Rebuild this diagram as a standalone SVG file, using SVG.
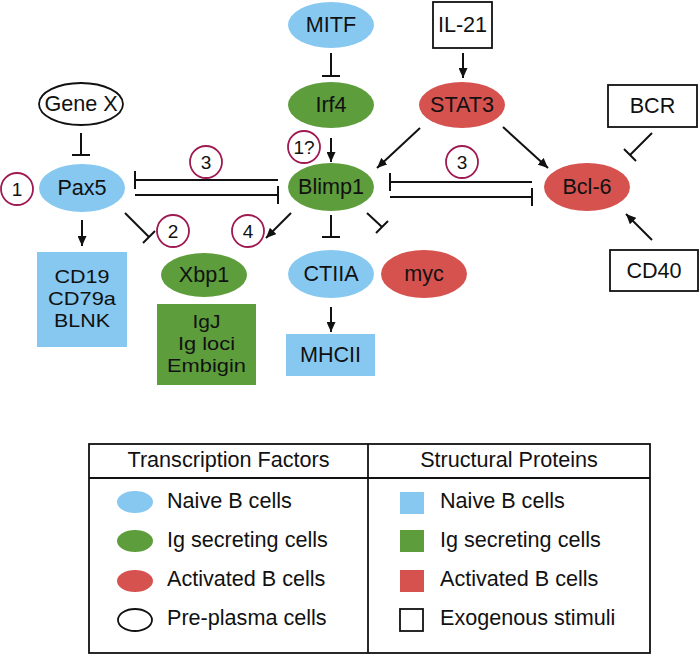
<svg xmlns="http://www.w3.org/2000/svg" width="699" height="655" viewBox="0 0 699 655">
<defs>
<marker id="arr" markerUnits="userSpaceOnUse" markerWidth="10" markerHeight="9" refX="10" refY="4.5" orient="auto">
<path d="M0,0 L10,4.5 L0,9 z" fill="#111"/>
</marker>
<style>
text{font-family:"Liberation Sans",Arial,sans-serif;font-size:21.6px;fill:#111;text-anchor:middle}
.ml{font-size:19px}
.blue{fill:#86c8f0}
.green{fill:#5d9d3c}
.red{fill:#d6524f}
.box{fill:#fff;stroke:#111;stroke-width:1.8}
.oval{fill:#fff;stroke:#111;stroke-width:1.8}
.ln{stroke:#111;stroke-width:2;fill:none}
.arr{stroke:#111;stroke-width:2;fill:none;marker-end:url(#arr)}
.num circle{fill:#fff;stroke:#9e1a50;stroke-width:1.8}
.num text{font-size:19px}
.leg text{text-anchor:start}
.leg .hd{text-anchor:middle}
</style>
</defs>
<rect width="699" height="655" fill="#fff"/>

<g id="connectors">
<line class="ln" x1="331" y1="53" x2="331" y2="76"/><line class="ln" x1="322" y1="76" x2="340" y2="76"/>
<line class="ln" x1="81" y1="133" x2="81" y2="155"/><line class="ln" x1="72" y1="155" x2="90" y2="155"/>
<line class="arr" x1="331" y1="138" x2="331" y2="162"/>
<line class="arr" x1="463" y1="53" x2="463" y2="78"/>
<line class="arr" x1="420" y1="128" x2="377" y2="168"/>
<line class="arr" x1="503" y1="127" x2="548" y2="168"/>
<line class="ln" x1="652" y1="133" x2="630" y2="155"/><line class="ln" x1="624" y1="149" x2="636" y2="161"/>
<line class="ln" x1="135" y1="180" x2="278" y2="180"/><line class="ln" x1="135" y1="171" x2="135" y2="189"/>
<line class="ln" x1="135" y1="195" x2="278" y2="195"/><line class="ln" x1="278" y1="186" x2="278" y2="204"/>
<line class="ln" x1="390" y1="182" x2="532" y2="182"/><line class="ln" x1="390" y1="173" x2="390" y2="191"/>
<line class="ln" x1="390" y1="197" x2="532" y2="197"/><line class="ln" x1="532" y1="188" x2="532" y2="206"/>
<line class="arr" x1="82" y1="220" x2="82" y2="246"/>
<line class="ln" x1="125" y1="213" x2="149" y2="237"/><line class="ln" x1="143" y1="243" x2="155" y2="231"/>
<line class="arr" x1="291" y1="213" x2="266" y2="238"/>
<line class="ln" x1="331" y1="215" x2="331" y2="237"/><line class="ln" x1="322" y1="237" x2="340" y2="237"/>
<line class="ln" x1="367" y1="213" x2="382" y2="227"/><line class="ln" x1="376" y1="233" x2="388" y2="221"/>
<line class="arr" x1="331" y1="307" x2="331" y2="332"/>
<line class="arr" x1="652" y1="240" x2="626" y2="214"/>
</g>

<g id="mitf"><ellipse class="blue" cx="331" cy="25" rx="43" ry="23"/><text x="331" y="32">MITF</text></g>
<g id="il21"><rect class="box" x="433" y="2" width="59" height="46"/><text x="462.5" y="32">IL-21</text></g>
<g id="genex"><ellipse class="oval" cx="81" cy="104" rx="42" ry="21"/><text x="81" y="111">Gene X</text></g>
<g id="irf4"><ellipse class="green" cx="331" cy="105" rx="43" ry="23"/><text x="331" y="112">Irf4</text></g>
<g id="stat3"><ellipse class="red" cx="462" cy="105" rx="43" ry="23"/><text x="462" y="112">STAT3</text></g>
<g id="bcr"><rect class="box" x="608" y="85" width="89" height="42"/><text x="652.5" y="113">BCR</text></g>
<g id="pax5"><ellipse class="blue" cx="82" cy="188" rx="43" ry="24"/><text x="82" y="195">Pax5</text></g>
<g id="blimp1"><ellipse class="green" cx="331" cy="187" rx="43" ry="24"/><text x="331" y="194">Blimp1</text></g>
<g id="bcl6"><ellipse class="red" cx="587" cy="187" rx="43" ry="24"/><text x="587" y="194">Bcl-6</text></g>
<g id="cd19"><rect class="blue" x="37" y="252" width="90" height="95"/>
<text class="ml" x="82" y="283" textLength="55" lengthAdjust="spacingAndGlyphs">CD19</text>
<text class="ml" x="82" y="305" textLength="68" lengthAdjust="spacingAndGlyphs">CD79a</text>
<text class="ml" x="82" y="327" textLength="56" lengthAdjust="spacingAndGlyphs">BLNK</text></g>
<g id="xbp1"><ellipse class="green" cx="204" cy="275" rx="43" ry="22"/><text x="204" y="282">Xbp1</text></g>
<g id="igj"><rect class="green" x="157" y="304" width="99" height="81"/>
<text class="ml" x="206.5" y="328" textLength="28" lengthAdjust="spacingAndGlyphs">IgJ</text>
<text class="ml" x="206.5" y="350" textLength="57" lengthAdjust="spacingAndGlyphs">Ig loci</text>
<text class="ml" x="206.5" y="372" textLength="79" lengthAdjust="spacingAndGlyphs">Embigin</text></g>
<g id="ctiia"><ellipse class="blue" cx="331" cy="274" rx="43" ry="24"/><text x="331" y="281">CTIIA</text></g>
<g id="myc"><ellipse class="red" cx="424" cy="274" rx="43" ry="24"/><text x="424" y="281">myc</text></g>
<g id="mhcii"><rect class="blue" x="286" y="334" width="89" height="42"/><text x="330.5" y="362">MHCII</text></g>
<g id="cd40"><rect class="box" x="610" y="250" width="88" height="41"/><text x="654" y="278">CD40</text></g>

<g id="labels" class="num">
<g><circle cx="17" cy="189" r="16"/><text x="17" y="196">1</text></g>
<g><circle cx="304" cy="147" r="16"/><text x="304" y="154">1?</text></g>
<g><circle cx="206" cy="162" r="16"/><text x="206" y="169">3</text></g>
<g><circle cx="462" cy="162" r="16"/><text x="462" y="169">3</text></g>
<g><circle cx="173" cy="231" r="16"/><text x="173" y="238">2</text></g>
<g><circle cx="248" cy="231" r="16"/><text x="248" y="238">4</text></g>
</g>

<g id="legend" class="leg">
<rect x="89" y="444" width="561" height="209" fill="none" stroke="#111" stroke-width="1.8"/>
<line x1="89" y1="478" x2="650" y2="478" stroke="#111" stroke-width="1.8"/>
<line x1="368" y1="444" x2="368" y2="653" stroke="#111" stroke-width="1.8"/>
<text class="hd" x="228.5" y="467">Transcription Factors</text>
<text class="hd" x="509" y="467">Structural Proteins</text>
<ellipse class="blue" cx="135" cy="502" rx="18" ry="11"/><text x="167" y="508">Naive B cells</text>
<ellipse class="green" cx="135" cy="541" rx="18" ry="11"/><text x="167" y="547">Ig secreting cells</text>
<ellipse class="red" cx="135" cy="581" rx="18" ry="11"/><text x="167" y="586">Activated B cells</text>
<ellipse class="oval" cx="135" cy="620" rx="17" ry="11"/><text x="167" y="625">Pre-plasma cells</text>
<rect class="blue" x="400" y="492" width="24" height="22"/><text x="440" y="508">Naive B cells</text>
<rect class="green" x="400" y="530" width="24" height="22"/><text x="440" y="547">Ig secreting cells</text>
<rect class="red" x="400" y="570" width="24" height="22"/><text x="440" y="586">Activated B cells</text>
<rect class="box" x="400" y="609" width="23" height="22"/><text x="440" y="625">Exogenous stimuli</text>
</g>
</svg>
